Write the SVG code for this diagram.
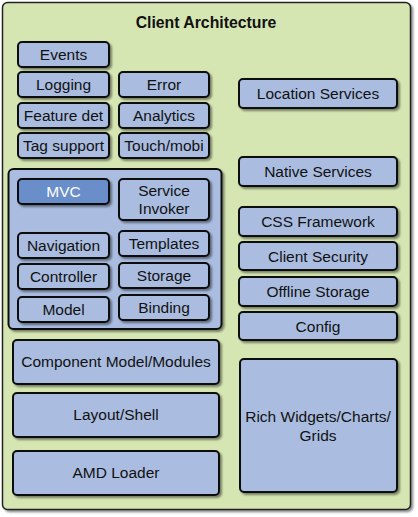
<svg xmlns="http://www.w3.org/2000/svg" width="418" height="517" viewBox="0 0 418 517">
<defs>
<filter id="sh" x="-10%" y="-10%" width="130%" height="130%">
<feGaussianBlur in="SourceAlpha" stdDeviation="1.2"/>
<feOffset dx="1.5" dy="1.5" result="o"/>
<feComponentTransfer><feFuncA type="linear" slope="0.45"/></feComponentTransfer>
<feMerge><feMergeNode/><feMergeNode in="SourceGraphic"/></feMerge>
</filter>
</defs>
<style>
.bg{fill:#d6e6b3;stroke:#222;stroke-width:1.5}
.b{fill:#aabde1;stroke:#111;stroke-width:2;filter:url(#sh)}
.m{fill:#6b8ec9;stroke:#111;stroke-width:2;filter:url(#sh)}
text{font-family:"Liberation Sans",Arial,sans-serif;font-size:15.5px;fill:#111;text-anchor:middle}
.w{fill:#fff}
.t{font-weight:bold;font-size:15.8px}
</style>
<g id="client-architecture">
<rect class="bg" x="2.5" y="2.5" width="408" height="507" rx="5" filter="url(#sh)"/>
<text class="t" x="206" y="28">Client Architecture</text>
</g>
<g id="events"><rect class="b" x="18" y="42" width="91" height="25" rx="4"/><text x="63.5" y="60">Events</text></g>
<g id="logging"><rect class="b" x="18" y="72" width="91" height="25" rx="4"/><text x="63.5" y="90">Logging</text></g>
<g id="error"><rect class="b" x="119" y="72" width="90" height="25" rx="4"/><text x="164" y="90">Error</text></g>
<g id="feature-det"><rect class="b" x="18" y="103" width="91" height="25" rx="4"/><text x="63.5" y="121">Feature det</text></g>
<g id="analytics"><rect class="b" x="119" y="103" width="90" height="25" rx="4"/><text x="164" y="121">Analytics</text></g>
<g id="tag-support"><rect class="b" x="18" y="133" width="91" height="25" rx="4"/><text x="63.5" y="151">Tag support</text></g>
<g id="touch-mobi"><rect class="b" x="119" y="133" width="90" height="25" rx="4"/><text x="164" y="151">Touch/mobi</text></g>
<g id="mvc-group"><rect class="b" x="8.5" y="169" width="213" height="160" rx="5"/></g>
<g id="mvc"><rect class="m" x="18" y="179" width="91" height="25" rx="4"/><text class="w" x="63.5" y="197">MVC</text></g>
<g id="service-invoker"><rect class="b" x="119" y="179" width="90" height="41" rx="4"/><text x="164" y="196">Service</text><text x="164" y="214">Invoker</text></g>
<g id="navigation"><rect class="b" x="18" y="233" width="91" height="25" rx="4"/><text x="63.5" y="251">Navigation</text></g>
<g id="templates"><rect class="b" x="119" y="231" width="90" height="25" rx="4"/><text x="164" y="249">Templates</text></g>
<g id="controller"><rect class="b" x="18" y="264" width="91" height="25" rx="4"/><text x="63.5" y="282">Controller</text></g>
<g id="storage"><rect class="b" x="119" y="263" width="90" height="25" rx="4"/><text x="164" y="281">Storage</text></g>
<g id="model"><rect class="b" x="18" y="297" width="91" height="25" rx="4"/><text x="63.5" y="315">Model</text></g>
<g id="binding"><rect class="b" x="119" y="295" width="90" height="25" rx="4"/><text x="164" y="313">Binding</text></g>
<g id="location-services"><rect class="b" x="239" y="79" width="158" height="29" rx="4"/><text x="318" y="99">Location Services</text></g>
<g id="native-services"><rect class="b" x="239" y="157" width="158" height="29" rx="4"/><text x="318" y="177">Native Services</text></g>
<g id="css-framework"><rect class="b" x="239" y="207" width="158" height="29" rx="4"/><text x="318" y="227">CSS Framework</text></g>
<g id="client-security"><rect class="b" x="239" y="242" width="158" height="28" rx="4"/><text x="318" y="261.5">Client Security</text></g>
<g id="offline-storage"><rect class="b" x="239" y="277" width="158" height="29" rx="4"/><text x="318" y="297">Offline Storage</text></g>
<g id="config"><rect class="b" x="239" y="312" width="158" height="28" rx="4"/><text x="318" y="331.5">Config</text></g>
<g id="component-model"><rect class="b" x="13" y="340" width="206" height="44" rx="4"/><text x="116" y="367">Component Model/Modules</text></g>
<g id="layout-shell"><rect class="b" x="13" y="393" width="206" height="44" rx="4"/><text x="116" y="420">Layout/Shell</text></g>
<g id="amd-loader"><rect class="b" x="13" y="451" width="206" height="44" rx="4"/><text x="116" y="478">AMD Loader</text></g>
<g id="rich-widgets"><rect class="b" x="240" y="359" width="157" height="133" rx="4"/><text x="318" y="422">Rich Widgets/Charts/</text><text x="318" y="441">Grids</text></g>
<g id="connectors"/>
</svg>
